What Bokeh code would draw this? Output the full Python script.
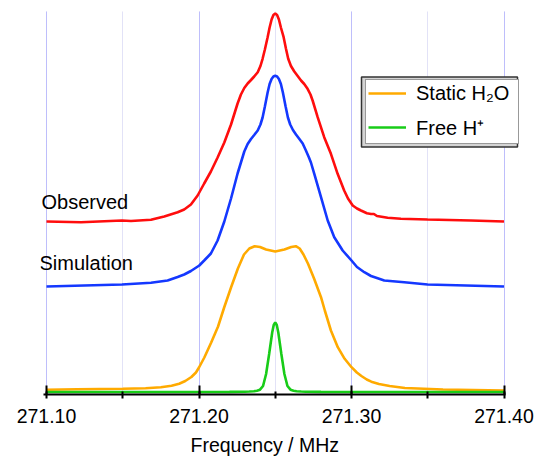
from bokeh.plotting import figure
from bokeh.models import (Range1d, SingleIntervalTicker, PrintfTickFormatter, Legend,
                          LegendItem, BoxAnnotation, Label, Title)
from bokeh.embed import file_html
from bokeh.resources import INLINE

# ---------------- data (frequency in MHz, intensity in arbitrary units) ----------------
freq_observed = [271.1000, 271.1226, 271.1495, 271.1554, 271.1685, 271.1772, 271.1860, 271.1903,
                 271.1947, 271.1991, 271.2034, 271.2078, 271.2122, 271.2166, 271.2210, 271.2253,
                 271.2275, 271.2297, 271.2319, 271.2341, 271.2362, 271.2385, 271.2403, 271.2417,
                 271.2432, 271.2450, 271.2463, 271.2476, 271.2488, 271.2500, 271.2512, 271.2524,
                 271.2537, 271.2555, 271.2570, 271.2585, 271.2603, 271.2625, 271.2647, 271.2669,
                 271.2690, 271.2712, 271.2731, 271.2745, 271.2778, 271.2821, 271.2865, 271.2909,
                 271.2952, 271.2977, 271.3008, 271.3036, 271.3062, 271.3101, 271.3128, 271.3147,
                 271.3167, 271.3237, 271.3324, 271.3499, 271.3783, 271.4000]
intensity_observed = [173, 172.3, 174, 173.5, 174.7, 178, 182.3, 185,
                      190, 199, 211, 223, 237, 252, 270, 291,
                      300, 306.5, 311, 314.5, 318, 322.3, 328.5, 335.7,
                      345, 357.3, 367, 375, 379.5, 381, 379.5, 375,
                      367, 357.3, 346, 335.7, 328.5, 323, 318.5, 314,
                      310.5, 305.7, 300, 294, 277.3, 257.3, 240.7, 220.7,
                      204, 196, 189, 186, 184, 181.3, 180.5, 180.5,
                      178.5, 176.7, 175.7, 175, 174, 173]

freq_simulation = [271.1000, 271.1495, 271.1685, 271.1794, 271.1860, 271.1903, 271.1947, 271.2002,
                   271.2034, 271.2078, 271.2122, 271.2166, 271.2210, 271.2253, 271.2275, 271.2297,
                   271.2319, 271.2341, 271.2362, 271.2385, 271.2403, 271.2417, 271.2432, 271.2450,
                   271.2463, 271.2476, 271.2488, 271.2500, 271.2512, 271.2524, 271.2537, 271.2550,
                   271.2568, 271.2583, 271.2598, 271.2616, 271.2636, 271.2657, 271.2680, 271.2701,
                   271.2721, 271.2734, 271.2756, 271.2800, 271.2844, 271.2887, 271.2942, 271.3000,
                   271.3036, 271.3084, 271.3128, 271.3215, 271.3346, 271.3499, 271.4000]
intensity_simulation = [108, 110, 111.7, 114, 117.5, 120, 123.5, 129,
                        134, 141, 154, 173, 196, 221, 232, 243,
                        250.5, 255.5, 259.5, 264, 270, 277, 288, 302,
                        310.5, 315.5, 318, 318.7, 318, 315.5, 310.5, 302,
                        288, 277, 270, 264.5, 260, 255.7, 251, 244,
                        237, 232, 220.7, 197.3, 174, 157.3, 144, 134,
                        127.5, 122.3, 118.5, 114, 112.3, 110, 108]

freq_static = [271.100, 271.120, 271.150, 271.165, 271.175, 271.182, 271.187, 271.191,
               271.195, 271.198, 271.200, 271.2035, 271.208, 271.2125, 271.2165, 271.221,
               271.2255, 271.2295, 271.233, 271.2365, 271.240, 271.244, 271.250, 271.256,
               271.2605, 271.2635, 271.266, 271.2685, 271.2715, 271.2755, 271.280, 271.2825,
               271.2865, 271.291, 271.2955, 271.300, 271.3035, 271.3065, 271.310, 271.313,
               271.318, 271.325, 271.335, 271.360, 271.400]
intensity_static = [4.7, 5.2, 5.7, 6.3, 7.3, 8.8, 10.8, 13.5,
                    17.5, 22, 27, 37, 52, 68, 87, 107,
                    126, 140, 146, 148.3, 147.5, 145, 143, 145,
                    147.5, 148.3, 146, 140, 130.7, 115.7, 97.3, 84,
                    64, 47.3, 35.7, 27.3, 22, 18.5, 15, 12.8,
                    10.5, 8.5, 6.5, 5, 4]

freq_free = [271.100, 271.150, 271.200, 271.220, 271.230, 271.233, 271.236, 271.238,
             271.240, 271.242, 271.244, 271.246, 271.248, 271.249, 271.250, 271.251,
             271.252, 271.254, 271.256, 271.258, 271.260, 271.262, 271.264, 271.267,
             271.270, 271.280, 271.300, 271.350, 271.400]
intensity_free = [2.5, 2.5, 2.5, 2.6, 2.8, 3.0, 3.3, 3.8,
                  4.8, 8.5, 20.5, 40.5, 62, 69.5, 72, 69.5,
                  62, 40.5, 20.5, 8.5, 4.8, 3.8, 3.3, 3.0,
                  2.8, 2.6, 2.5, 2.5, 2.5]

series_labels = ["Observed", "Simulation", "Static H\u2082O", "Free H\u207a"]
x_axis_title = "Frequency / MHz"
tick_interval = 0.10
axis_min, axis_max = 271.10, 271.40

# ---------------- layout ----------------
W, H = 544, 462
BL, BR, BT, BB = 40, 22, 11, 68
FONT = "Liberation Sans"
frame_left_page = BL
frame_w = W - BL - BR
frame_h = H - BT - BB
frame_bottom_page = BT + frame_h
px_per_mhz = (503.5 - 46.0) / (axis_max - axis_min)
x0 = axis_min - (46.0 - frame_left_page) / px_per_mhz
x1 = x0 + frame_w / px_per_mhz


def xd(page_x):
    return x0 + (page_x - frame_left_page) / px_per_mhz


def yd(page_y):
    return frame_bottom_page - page_y


p = figure(width=W, height=H, x_range=Range1d(x0, x1), y_range=Range1d(0, frame_h),
           output_backend="svg", toolbar_location=None, y_axis_location=None,
           min_border_left=BL, min_border_right=BR, min_border_top=BT, min_border_bottom=BB)
p.outline_line_color = None
p.background_fill_color = "white"

major_ticker = SingleIntervalTicker(interval=tick_interval, num_minor_ticks=2)
p.xaxis.ticker = major_ticker
p.xaxis.bounds = (xd(42.5), xd(505))
p.xaxis.formatter = PrintfTickFormatter(format="%.2f")
p.xaxis.axis_line_width = 2
p.xaxis.axis_line_color = "black"
p.xaxis.major_tick_in = 9
p.xaxis.major_tick_out = 0
p.xaxis.major_tick_line_width = 2
p.xaxis.minor_tick_in = 3
p.xaxis.minor_tick_out = 4
p.xaxis.minor_tick_line_width = 2
p.xaxis.major_label_text_font = FONT
p.xaxis.major_label_text_font_size = "19.5px"
p.xaxis.major_label_text_color = "black"
p.xaxis.major_label_standoff = 10

p.xgrid.ticker = major_ticker
p.xgrid.bounds = (axis_min - 1e-4, axis_max + 1e-4)
p.xgrid.grid_line_color = "#9a9aff"
p.xgrid.grid_line_dash = "1 1"
p.xgrid.grid_line_width = 1
p.xgrid.minor_grid_line_color = "#c4c4ee"
p.xgrid.minor_grid_line_dash = "1 1"
p.xgrid.minor_grid_line_width = 1
p.ygrid.visible = False

p.line(freq_observed, intensity_observed, line_color="#ff0d0d", line_width=2.6)
p.line(freq_simulation, intensity_simulation, line_color="#1438ff", line_width=2.6)
r_static = p.line(freq_static, intensity_static, line_color="#ffaa00", line_width=2.6)
r_free = p.line(freq_free, intensity_free, line_color="#18cc18", line_width=2.6)

p.add_layout(Label(x=xd(41.0), y=yd(201.5), text=series_labels[0], text_font=FONT,
                   text_font_size="20px", text_color="black", text_baseline="alphabetic"))
p.add_layout(Label(x=xd(39.0), y=yd(262.5), text=series_labels[1], text_font=FONT,
                   text_font_size="20px", text_color="black", text_baseline="alphabetic"))

p.add_layout(Title(text=x_axis_title, align="left", offset=190 - frame_left_page,
                   standoff=12, text_line_height=0.9, text_font=FONT,
                   text_font_size="19.5px", text_font_style="normal",
                   text_color="black"), "below")

outer = BoxAnnotation(left=xd(361), right=xd(517), top=yd(76.5), bottom=yd(146.5),
                      fill_color="#d4d4d4", fill_alpha=1.0, line_color="#333333",
                      line_alpha=1.0, line_width=1.5, level="underlay")
p.add_layout(outer)

legend_top = 79.5
legend_h = 2 * 2 + 9 + 2 * 25.5
legend = Legend(items=[LegendItem(label=series_labels[2], renderers=[r_static]),
                       LegendItem(label=series_labels[3], renderers=[r_free])],
                location=(365 - frame_left_page, frame_bottom_page - (legend_top + legend_h)),
                margin=0, padding=2, spacing=9, glyph_width=38, glyph_height=20,
                label_height=20, label_width=100, label_standoff=10,
                label_text_font=FONT, label_text_font_size="20px", label_text_color="black",
                border_line_color="#333333", border_line_width=1.5,
                background_fill_color="white", background_fill_alpha=1)
p.add_layout(legend)

open("out.html", "w").write(file_html(p, INLINE))
